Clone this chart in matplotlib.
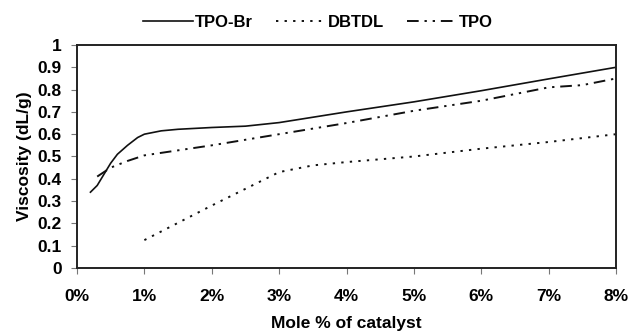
import matplotlib.pyplot as plt
from matplotlib.ticker import FuncFormatter

plt.rcParams['font.family'] = ['Liberation Sans', 'DejaVu Sans']
plt.rcParams['font.weight'] = 'bold'

# Intrinsic viscosity vs. catalyst loading (mole %)
tpobr_x = [0.2, 0.3, 0.4, 0.5, 0.6, 0.75, 0.9, 1.0, 1.25, 1.5, 2.0, 2.5, 3.0, 4.0, 5.0, 6.0, 7.0, 8.0]
tpobr_y = [0.34, 0.37, 0.42, 0.47, 0.51, 0.55, 0.585, 0.60, 0.615, 0.622, 0.63, 0.636, 0.652, 0.70, 0.745, 0.795, 0.848, 0.90]

dbtdl_x = [1.0, 2.0, 3.0, 3.5, 4.0, 5.0, 6.0, 7.0, 8.0]
dbtdl_y = [0.125, 0.28, 0.43, 0.46, 0.475, 0.50, 0.535, 0.565, 0.60]

tpo_x = [0.3, 0.5, 0.75, 1.0, 2.0, 3.0, 4.0, 5.0, 6.0, 7.0, 7.5, 8.0]
tpo_y = [0.41, 0.45, 0.48, 0.505, 0.55, 0.60, 0.65, 0.705, 0.75, 0.81, 0.82, 0.85]

fig = plt.figure(figsize=(6.32, 3.32), dpi=100)
ax = fig.add_axes([0.1218, 0.1928, 0.853, 0.6717])

ax.plot(tpobr_x, tpobr_y, color='#111111', lw=1.2, label='TPO-Br')
ax.plot(dbtdl_x, dbtdl_y, color='#111111', lw=1.4, linestyle=(0, (1.2, 3.2)), label='DBTDL')
ax.plot(tpo_x, tpo_y, color='#111111', lw=1.4,
        linestyle=(0, (6, 3, 1.2, 3, 1.2, 3)), label='TPO')

ax.set_xlim(0, 8)
ax.set_ylim(0, 1)
ax.set_xticks(range(0, 9))
ax.set_yticks([i / 10 for i in range(11)])
ax.xaxis.set_major_formatter(FuncFormatter(lambda v, p: f'{int(v)}%'))
ax.yaxis.set_major_formatter(FuncFormatter(lambda v, p: '0' if v == 0 else ('1' if v == 1 else f'{v:.1f}')))

ax.tick_params(axis='both', direction='out', length=4, width=0.8, color='#777777', labelsize=12.5)
ax.tick_params(axis='x', pad=11)
ax.tick_params(axis='y', pad=7)

for side in ['left', 'bottom', 'top', 'right']:
    ax.spines[side].set_linewidth(1.4)
    ax.spines[side].set_color('#222222')

ax.set_xlabel('Mole % of catalyst', fontsize=12.5, fontweight='bold', labelpad=9)
ax.set_ylabel('Viscosity (dL/g)', fontsize=12.5, fontweight='bold', labelpad=4)

fig.legend(loc='upper center', bbox_to_anchor=(0.503, 1.0), ncol=3, frameon=False,
           fontsize=12, handlelength=3.0, handletextpad=0.1, columnspacing=1.4)

fig.savefig('out.png', dpi=100)
